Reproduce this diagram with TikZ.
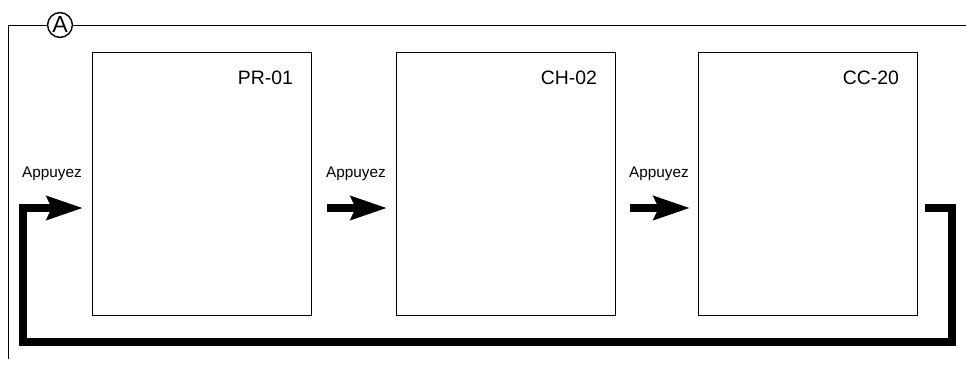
\documentclass[tikz,border=0pt]{standalone}
\usepackage{fontspec}
\setmainfont{Liberation Sans}
\usetikzlibrary{arrows.meta}
\tikzset{>={Stealth[length = 0.9cm, width = 0.58cm, inset = 0.12cm]}}
\tikzset{panel/.style = {rectangle, draw = black, line width = 0.7pt, inner sep = 0pt, minimum width = 5.475cm, minimum height = 6.575cm},
  tag/.style = {anchor = base east, inner sep = 0pt, font = \fontsize{13.8}{16}\selectfont},
  press/.style = {anchor = base east, inner sep = 0pt, font = \fontsize{10.9}{13}\selectfont},
  flow/.style = {draw, line width = 0.2cm, ->},
  frame/.style = {draw, line width = 0.6pt}}

\begin{document}
\begin{tikzpicture}
\useasboundingbox (0, 0) rectangle (24.15, 9.125);

% frame with its mark
\node[circle, draw = black, line width = 1pt, inner sep = 0pt, minimum size = 0.62cm, font = \fontsize{16.5}{18}\selectfont] (mark) at (1.5, 8.5) {A};
\coordinate (frametl) at (0.2, 8.5);
\coordinate (framebl) at (0.2, 0.15);
\coordinate (frametr) at (24.15, 8.5);
\path [frame] (mark.west) -- (frametl) -- (framebl);
\path [frame] (mark.east) -- (frametr);

% the three screens
\node[panel] (pr) at (5.05, 4.5375) {};
\node[panel] (ch) at (12.6375, 4.5375) {};
\node[panel] (cc) at (20.2, 4.5375) {};

\node[tag] (prname) at (7.33, 7.0) {PR-01};
\node[tag] (chname) at (14.93, 7.0) {CH-02};
\node[tag] (ccname) at (22.48, 7.0) {CC-20};

\node[press] (press1) at (2.05, 4.675) {Appuyez};
\node[press] (press2) at (9.65, 4.675) {Appuyez};
\node[press] (press3) at (17.225, 4.675) {Appuyez};

% arrows
\coordinate (in1) at (2.075, 3.925);
\coordinate (out1) at (8.175, 3.925);
\coordinate (in2) at (9.675, 3.925);
\coordinate (out2) at (15.75, 3.925);
\coordinate (in3) at (17.25, 3.925);
\coordinate (out3) at (23.125, 3.925);
\coordinate (loopse) at (23.8, 0.575);
\coordinate (loopnw) at (0.575, 3.925);

\path [flow] (out1) -- (in2);
\path [flow] (out2) -- (in3);
\path [flow] (out3) -| (loopse) -| (loopnw) -- (in1);

\end{tikzpicture}
\end{document}
